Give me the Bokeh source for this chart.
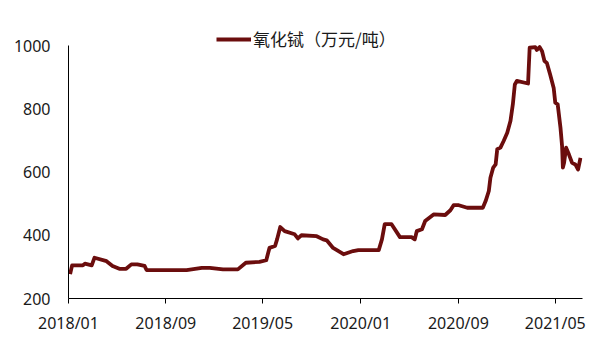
import pandas as pd
from bokeh.plotting import figure
from bokeh.models import (FixedTicker, DatetimeTickFormatter, Legend, LegendItem,
                          Range1d, ColumnDataSource)
from bokeh.embed import file_html
from bokeh.resources import INLINE

series_name = "氧化铽（万元/吨）"

dates = [
    "2018-01-05", "2018-01-10", "2018-02-06", "2018-02-11", "2018-02-28", "2018-03-07",
    "2018-04-06", "2018-04-21", "2018-05-08", "2018-05-25", "2018-06-07", "2018-06-22",
    "2018-07-10", "2018-07-15", "2018-10-23", "2018-11-30", "2018-12-20", "2019-01-22",
    "2019-02-28", "2019-03-20", "2019-04-23", "2019-05-10", "2019-05-18", "2019-06-01",
    "2019-06-06", "2019-06-14", "2019-06-25", "2019-07-20", "2019-07-28", "2019-08-06",
    "2019-09-13", "2019-09-29", "2019-10-08", "2019-10-24", "2019-11-19", "2019-12-13",
    "2019-12-26", "2020-02-15", "2020-02-23", "2020-03-01", "2020-03-18", "2020-04-08",
    "2020-05-07", "2020-05-15", "2020-05-20", "2020-06-02", "2020-06-10", "2020-07-01",
    "2020-07-30", "2020-08-12", "2020-08-20", "2020-09-02", "2020-09-23", "2020-11-01",
    "2020-11-08", "2020-11-16", "2020-11-20", "2020-11-27", "2020-12-03", "2020-12-07",
    "2020-12-15", "2020-12-23", "2021-01-01", "2021-01-09", "2021-01-15", "2021-01-20",
    "2021-01-25", "2021-02-22", "2021-02-26", "2021-03-12", "2021-03-16", "2021-03-23",
    "2021-03-29", "2021-04-04", "2021-04-10", "2021-04-18", "2021-04-27", "2021-05-01",
    "2021-05-07", "2021-05-14", "2021-05-18", "2021-05-20", "2021-05-23", "2021-05-28",
    "2021-06-04", "2021-06-12", "2021-06-20", "2021-06-27", "2021-07-03",
]
prices = [
    277, 305, 305, 310, 305, 329,
    318, 303, 294, 294, 308, 308,
    303, 290, 290, 297, 297, 292,
    292, 313, 316, 321, 360, 366,
    387, 426, 413, 403, 390, 400,
    397, 387, 384, 360, 340, 350,
    353, 353, 387, 435, 435, 394,
    394, 387, 413, 419, 445, 466,
    464, 479, 495, 495, 487, 487,
    508, 540, 582, 614, 624, 672,
    677, 698, 724, 761, 814, 877,
    888, 880, 993, 995, 986, 995,
    982, 951, 945, 909, 866, 819,
    814, 740, 682, 614, 629, 677,
    656, 629, 624, 608, 645,
]
tick_labels = ["2018/01", "2018/09", "2019/05", "2020/01", "2020/09", "2021/05"]
y_ticks = [200, 400, 600, 800, 1000]

src = ColumnDataSource(dict(date=pd.to_datetime(dates), price=prices))

# frame extends above the 1000 line so the legend can sit there unclipped;
# the y axis line itself is bounded to 200..1000
p = figure(width=605, height=356, x_axis_type="datetime",
           output_backend="svg", toolbar_location=None,
           x_range=Range1d(pd.Timestamp("2018-01-01"), pd.Timestamp("2021-07-08")),
           y_range=Range1d(200, 1085.5),
           min_border_left=68, min_border_right=23, min_border_top=18, min_border_bottom=58)
p.outline_line_color = None
p.xgrid.visible = False
p.ygrid.visible = False
p.background_fill_color = "white"
p.border_fill_color = "white"

line_color = "#6B0D0D"
r = p.line("date", "price", source=src, line_color=line_color, line_width=3.8,
           line_join="round")

tick_ms = [pd.Timestamp(t.replace("/", "-") + "-01").value / 1e6 for t in tick_labels]
p.xaxis.ticker = FixedTicker(ticks=tick_ms)
fmt = "%Y/%m"
p.xaxis.formatter = DatetimeTickFormatter(
    milliseconds=fmt, seconds=fmt, minsec=fmt, minutes=fmt, hourmin=fmt, hours=fmt,
    days=fmt, months=fmt, years=fmt)
p.yaxis.ticker = FixedTicker(ticks=y_ticks)
p.yaxis.bounds = (200, 1000)

font = "Noto Sans"
for ax in (p.xaxis[0], p.yaxis[0]):
    ax.axis_line_color = "black"
    ax.axis_line_width = 1
    ax.minor_tick_line_color = None
    ax.major_label_text_font = font
    ax.major_label_text_font_size = "16px"
    ax.major_label_text_color = "#1a1a1a"
    ax.major_tick_in = 0

p.xaxis.major_tick_out = 5
p.xaxis.major_tick_line_color = "black"
p.xaxis.major_label_standoff = 8
p.yaxis.major_tick_out = 0
p.yaxis.major_tick_line_color = None
p.yaxis.major_label_standoff = 18

legend = Legend(items=[LegendItem(label=series_name, renderers=[r])],
                location=(148, 247), orientation="horizontal",
                padding=0, margin=0, border_line_color=None,
                background_fill_alpha=0, glyph_width=35, glyph_height=24,
                label_height=24, label_standoff=2,
                label_text_font="Noto Sans CJK SC", label_text_font_size="17px",
                label_text_color="#1a1a1a")
p.add_layout(legend)

open("out.html", "w").write(file_html(p, INLINE))
